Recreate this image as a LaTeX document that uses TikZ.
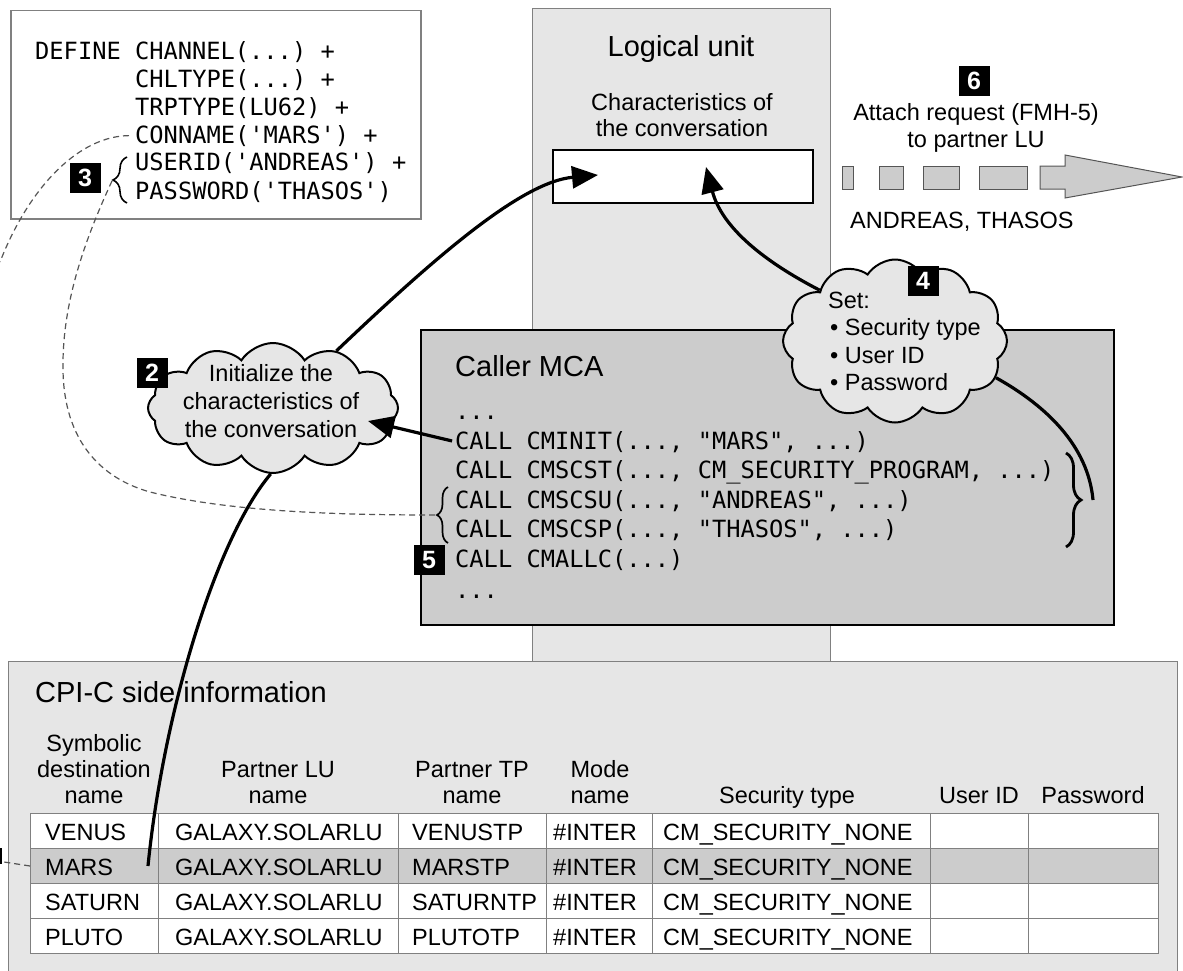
\documentclass[tikz,border=0pt]{standalone}
\usepackage{fontspec}
\setmainfont{Liberation Sans}
\setmonofont{DejaVu Sans Mono}
\usetikzlibrary{shapes.symbols,arrows.meta,decorations.pathreplacing}
\definecolor{lightg}{HTML}{E6E6E6}
\definecolor{midg}{HTML}{CCCCCC}
\definecolor{edgeg}{HTML}{808080}
\definecolor{dashg}{HTML}{555555}
\begin{document}
\begin{tikzpicture}[x=1pt,y=-1pt,
  txt/.style={font=\fontsize{23.5}{27}\selectfont, inner sep=0pt},
  ttl/.style={font=\fontsize{29}{34}\selectfont, inner sep=0pt},
  codetxt/.style={font=\ttfamily\fontsize{23.7}{30}\selectfont, inner sep=0pt, anchor=base west},
  numbox/.style={fill=black, text=white, font=\fontsize{25}{25}\selectfont\bfseries, minimum width=31pt, minimum height=30pt, inner sep=0pt},
  bubble/.style={cloud, cloud puffs=12, cloud puff arc=115, cloud ignores aspect, draw=black, line width=2pt, fill=lightg, inner sep=0pt},
  bigarrow/.style={line width=3.2pt, -{Triangle[length=26pt,width=22pt]}},
  bigline/.style={line width=3.2pt},
  dashline/.style={draw=dashg, line width=1.2pt, dash pattern=on 6pt off 4pt},
  cell/.style={draw=edgeg, line width=1pt, minimum height=35pt, inner sep=0pt, anchor=north west},
  panel/.style={anchor=north west, inner sep=0pt},
  brc/.style={decorate, decoration={brace, amplitude=#1}},
  smallbox/.style={fill=midg, draw=dashg, line width=1pt},
]
\useasboundingbox (0,0) rectangle (1183,971);

% Logical unit
\node[panel, draw=edgeg, line width=1.2pt, fill=lightg, minimum width=298pt, minimum height=653pt] (lu) at (532,8) {};
\node[ttl, anchor=base] (lutitle) at (681,57) {Logical unit};
\node[txt, anchor=base] (luchar1) at (682,111) {Characteristics of};
\node[txt, anchor=base] (luchar2) at (682,137) {the conversation};
\node[panel, draw=black, line width=1.8pt, fill=white, minimum width=260pt, minimum height=53pt] (lurect) at (552,149) {};

% DEFINE box
\node[panel, draw=edgeg, line width=1.5pt, fill=white, minimum width=410pt, minimum height=208pt] (defbox) at (10,10) {};
\node[codetxt] (d1) at (35,60) {DEFINE CHANNEL(...) +};
\node[codetxt] (d2) at (135,88) {CHLTYPE(...) +};
\node[codetxt] (d3) at (135,116) {TRPTYPE(LU62) +};
\node[codetxt] (d4) at (135,143) {CONNAME('MARS') +};
\node[codetxt] (d5) at (135,171) {USERID('ANDREAS') +};
\node[codetxt] (d6) at (135,199) {PASSWORD('THASOS')};

% Attach request
\node[txt, anchor=base] (att1) at (976,121) {Attach request (FMH-5)};
\node[txt, anchor=base] (att2) at (976,148) {to partner LU};
\draw[smallbox] (842,166) rectangle (853,189);
\draw[smallbox] (879,166) rectangle (903,189);
\draw[smallbox] (923,166) rectangle (959,189);
\draw[smallbox] (979,166) rectangle (1027,189);
\draw[smallbox] (1040,166) -- (1065,166) -- (1065,155) -- (1182,177) -- (1065,198) -- (1065,189) -- (1040,189) -- cycle;
\node[txt, anchor=base west] (andreas) at (850,228) {ANDREAS, THASOS};

% Caller MCA
\node[panel, draw=black, line width=2pt, fill=midg, minimum width=693pt, minimum height=295pt] (mca) at (420,329) {};
\node[ttl, anchor=base west] (mcatitle) at (455,376) {Caller MCA};
\node[codetxt] (dots1) at (455,419) {...};
\node[codetxt] (cminit) at (455,449) {CALL CMINIT(..., "MARS", ...)};
\node[codetxt] (cmscst) at (455,478) {CALL CMSCST(..., CM\_SECURITY\_PROGRAM, ...)};
\node[codetxt] (cmscsu) at (455,508) {CALL CMSCSU(..., "ANDREAS", ...)};
\node[codetxt] (cmscsp) at (455,537) {CALL CMSCSP(..., "THASOS", ...)};
\node[codetxt] (cmallc) at (455,567) {CALL CMALLC(...)};
\node[codetxt] (dots2) at (455,598) {...};

% CPI-C side information
\node[panel, draw=edgeg, line width=1.2pt, fill=lightg, minimum width=1169pt, minimum height=320pt] (side) at (8,661) {};
\node[ttl, anchor=base west] (sidetitle) at (35,702) {CPI-C side information};
\node[txt, anchor=base] (h1a) at (94,751) {Symbolic};
\node[txt, anchor=base] (h1b) at (94,777) {destination};
\node[txt, anchor=base] (h1c) at (94,803) {name};
\node[txt, anchor=base] (h2a) at (278,777) {Partner LU};
\node[txt, anchor=base] (h2b) at (278,803) {name};
\node[txt, anchor=base] (h3a) at (472,777) {Partner TP};
\node[txt, anchor=base] (h3b) at (472,803) {name};
\node[txt, anchor=base] (h4a) at (600,777) {Mode};
\node[txt, anchor=base] (h4b) at (600,803) {name};
\node[txt, anchor=base] (h5) at (787,803) {Security type};
\node[txt, anchor=base] (h6) at (979,803) {User ID};
\node[txt, anchor=base] (h7) at (1093,803) {Password};
\foreach \r/\y/\f/\a/\b in {1/813/white/VENUS/VENUSTP, 2/848/midg/MARS/MARSTP, 3/883/white/SATURN/SATURNTP, 4/918/white/PLUTO/PLUTOTP}{
  \foreach \c/\xa/\w in {1/30/128, 2/158/240, 3/398/148, 4/546/106, 5/652/278, 6/930/98, 7/1028/130}{
    \node[cell, fill=\f, minimum width=\w*1pt] (r\r c\c) at (\xa,\y) {};
  }
  \node[txt, anchor=base west] (ta\r) at (45,\y+27) {\a};
  \node[txt, anchor=base west] (tb\r) at (175,\y+27) {GALAXY.SOLARLU};
  \node[txt, anchor=base west] (tc\r) at (412,\y+27) {\b};
  \node[txt, anchor=base west] (td\r) at (553,\y+27) {\#INTER};
  \node[txt, anchor=base west] (te\r) at (663,\y+27) {CM\_SECURITY\_NONE};
}

% clouds
\node[bubble, minimum width=250pt, minimum height=130pt] (c2) at (273,408) {};
\node[txt, anchor=base] (c2t1) at (271,381) {Initialize the};
\node[txt, anchor=base] (c2t2) at (271,409) {characteristics of};
\node[txt, anchor=base] (c2t3) at (271,437) {the conversation};
\node[bubble, minimum width=224pt, minimum height=163pt] (c4) at (895,341) {};
\node[txt, anchor=base west] (c4t1) at (828,308) {Set:};
\node[txt, anchor=base west] (c4t2) at (830,335) {\textbullet\ Security type};
\node[txt, anchor=base west] (c4t3) at (830,363) {\textbullet\ User ID};
\node[txt, anchor=base west] (c4t4) at (830,390) {\textbullet\ Password};

% braces
\draw[brc=14pt, line width=1.6pt] (127,203) -- (127,157);
\draw[brc=11pt, line width=1.7pt] (448,543) -- (448,487);
\draw[brc=15pt, line width=2.8pt] (1066,453) -- (1066,547);

% free ends
\coordinate (luA) at (598,175);
\coordinate (luB) at (706,167);
\coordinate (c2tip) at (368,421);
\coordinate (cEnd) at (1093,500);
\coordinate (marsEnd) at (148,866);
\coordinate (leftOut) at (0,262);
\coordinate (leftIn) at (4,862);
\coordinate (b3tip) at (112,181);
\coordinate (b5tip) at (436,515);

% dashed connectors
\draw[dashline, shorten <=6pt] (d4.west) .. controls (80,136) and (30,185) .. (leftOut);
\draw[dashline] (r2c1.west) -- (leftIn);
\draw[line width=1.5pt] (1,848) -- (1,864);
\draw[dashline] (b3tip) .. controls (80,250) and (62,310) .. (63,370) .. controls (64,440) and (100,478) .. (150,492) .. controls (230,512) and (340,515) .. (b5tip);

% solid connectors
\draw[bigarrow] (c2.42) .. controls (430,262) and (520,182) .. (luA);
\draw[bigarrow] (c4.146) .. controls (765,262) and (722,228) .. (luB);
\draw[bigline] (c4.-20) .. controls (1045,405) and (1088,445) .. (cEnd);
\draw[bigarrow, shorten <=3pt] (cminit.west) -- (c2tip);
\draw[bigline] (c2.-92) .. controls (215,540) and (163,715) .. (marsEnd);

% step numbers
\node[numbox] (n2) at (152,373) {2};
\node[numbox] (n3) at (85,178) {3};
\node[numbox] (n4) at (923,281) {4};
\node[numbox] (n5) at (429,560) {5};
\node[numbox] (n6) at (974,81) {6};
\end{tikzpicture}
\end{document}
